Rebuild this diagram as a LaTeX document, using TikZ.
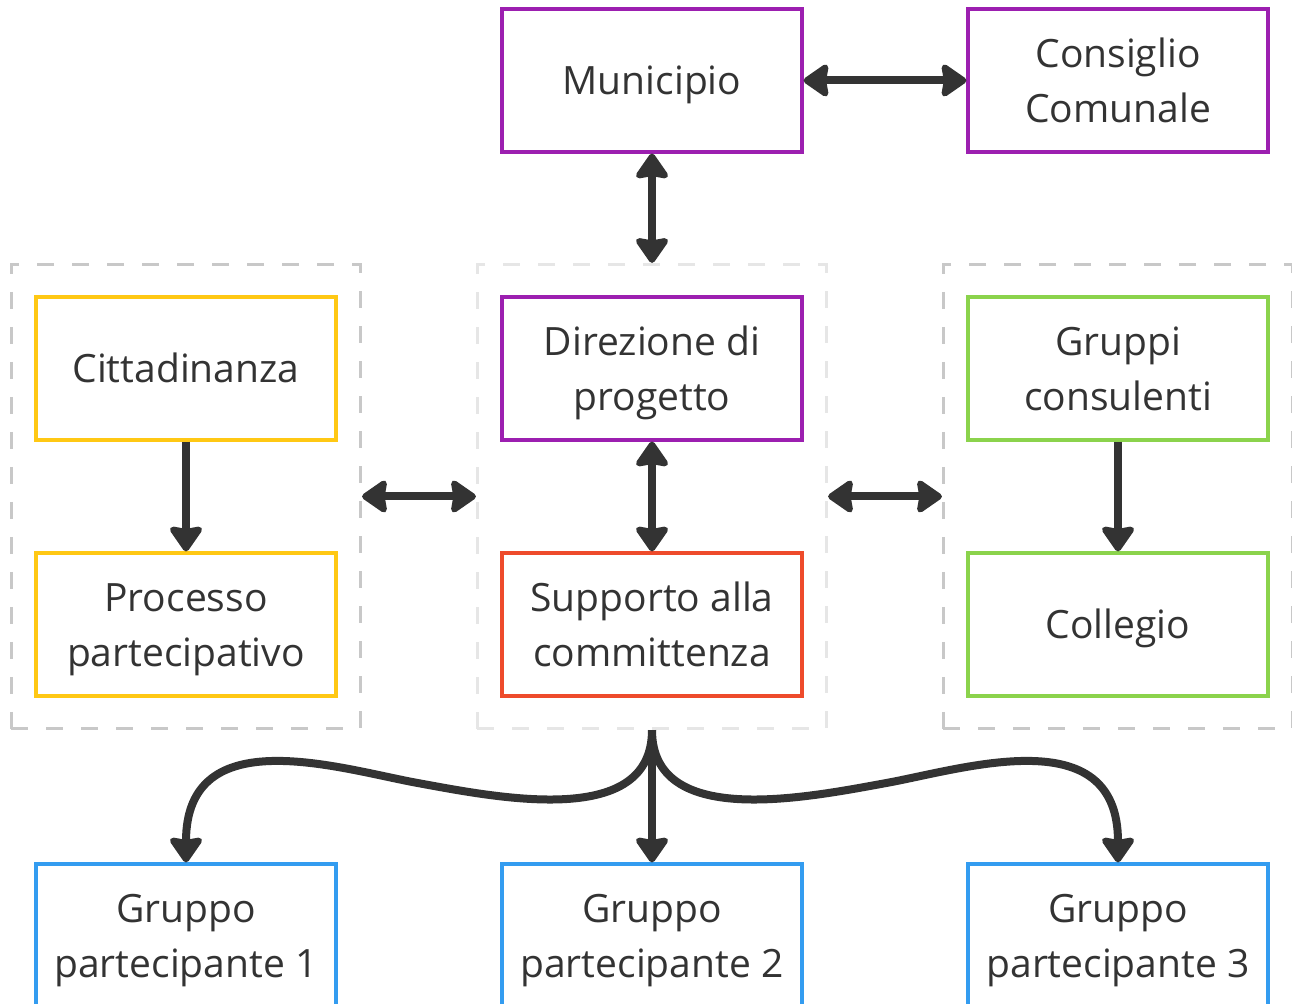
\documentclass[tikz,border=0pt]{standalone}
\usepackage{fontspec}
\setmainfont{Open Sans}
\usepackage{tikz}
\usetikzlibrary{positioning, fit, calc, arrows.meta}
\definecolor{txtgray}{HTML}{333333}
\definecolor{mpurple}{HTML}{9C1FB0}
\definecolor{myellow}{HTML}{FFC814}
\definecolor{mgreen}{HTML}{8BD34C}
\definecolor{mred}{HTML}{EE4B2B}
\definecolor{mblue}{HTML}{339CF0}
\definecolor{clgray}{HTML}{C8C8C8}
\definecolor{cllight}{HTML}{E6E6E6}

\begin{document}
\begin{tikzpicture}[x=0.5pt, y=-0.5pt,
    entity/.style={rectangle,
      draw=#1,
      line width=1.6pt,
      minimum width=150pt,
      minimum height=71.5pt,
      inner sep=0pt,
      align=center,
      text=txtgray,
      font=\fontsize{19.5}{27.5}\selectfont,
      execute at end node={\rule[-8.25pt]{0pt}{0pt}}},
    oneline/.style={execute at begin node={\rule{0pt}{22.5pt}}},
    twolines/.style={execute at begin node={\rule{0pt}{50pt}}},
    cluster/.style={rectangle,
      draw=#1,
      line width=1.5pt,
      dash pattern=on 8.5pt off 9pt,
      inner xsep=11.5pt,
      inner ysep=15.5pt},
    flow/.style={line width=4pt, draw=txtgray,
      -{Stealth[length=14pt, width=19pt, inset=1.5pt, round]}},
    biflow/.style={line width=4pt, draw=txtgray,
      {Stealth[length=14pt, width=19pt, inset=1.5pt, round]}-{Stealth[length=14pt, width=19pt, inset=1.5pt, round]}}]

  \useasboundingbox (0,0) rectangle (1292,1004);
  \clip (0,0) rectangle (1292,1004);

  % TOP

  \node[entity=mpurple, oneline] (municipio) at (652,80.5) {Municipio};
  \node[entity=mpurple, twolines, right=81.4pt of municipio] (consiglio) {Consiglio\\Comunale};

  % GROUPS

  \node[entity=mpurple, twolines, below=70.9pt of municipio] (direzione) {Direzione di\\progetto};
  \node[entity=mred, twolines, below=54.9pt of direzione] (supporto) {Supporto alla\\committenza};

  \node[entity=myellow, oneline, left=81.4pt of direzione] (cittadinanza) {Cittadinanza};
  \node[entity=myellow, twolines, below=54.9pt of cittadinanza] (processo) {Processo\\partecipativo};

  \node[entity=mgreen, twolines, right=81.4pt of direzione] (consulenti) {Gruppi\\consulenti};
  \node[entity=mgreen, oneline, below=54.9pt of consulenti] (collegio) {Collegio};

  \node[cluster=clgray, fit=(cittadinanza)(processo)] (leftcl) {};
  \node[cluster=cllight, fit=(direzione)(supporto)] (midcl) {};
  \node[cluster=clgray, fit=(consulenti)(collegio)] (rightcl) {};

  % PARTICIPANTS

  \node[entity=mblue, twolines, below=82.4pt of supporto] (gruppo2) {Gruppo\\partecipante 2};
  \node[entity=mblue, twolines, left=81.4pt of gruppo2] (gruppo1) {Gruppo\\partecipante 1};
  \node[entity=mblue, twolines, right=81.4pt of gruppo2] (gruppo3) {Gruppo\\partecipante 3};

  % LINKS

  \draw[biflow] (municipio) -- (consiglio);
  \draw[biflow] (municipio) -- (midcl);
  \draw[biflow] (leftcl) -- (midcl);
  \draw[biflow] (midcl) -- (rightcl);
  \draw[biflow] (direzione) -- (supporto);
  \draw[flow] (cittadinanza) -- (processo);
  \draw[flow] (consulenti) -- (collegio);

  \coordinate (lwave) at ($(midcl.south)!.5!(gruppo1.north)+(0,-13)$);
  \coordinate (rwave) at ($(midcl.south)!.5!(gruppo3.north)+(0,-13)$);

  \draw[flow] (midcl.south) .. controls +(0,98) and +(82,15) .. (lwave)
    .. controls +(-78,-14) and +(0,-144) .. (gruppo1.north);
  \draw[flow] (midcl.south) -- (gruppo2.north);
  \draw[flow] (midcl.south) .. controls +(0,98) and +(-82,15) .. (rwave)
    .. controls +(78,-14) and +(0,-144) .. (gruppo3.north);

\end{tikzpicture}
\end{document}
